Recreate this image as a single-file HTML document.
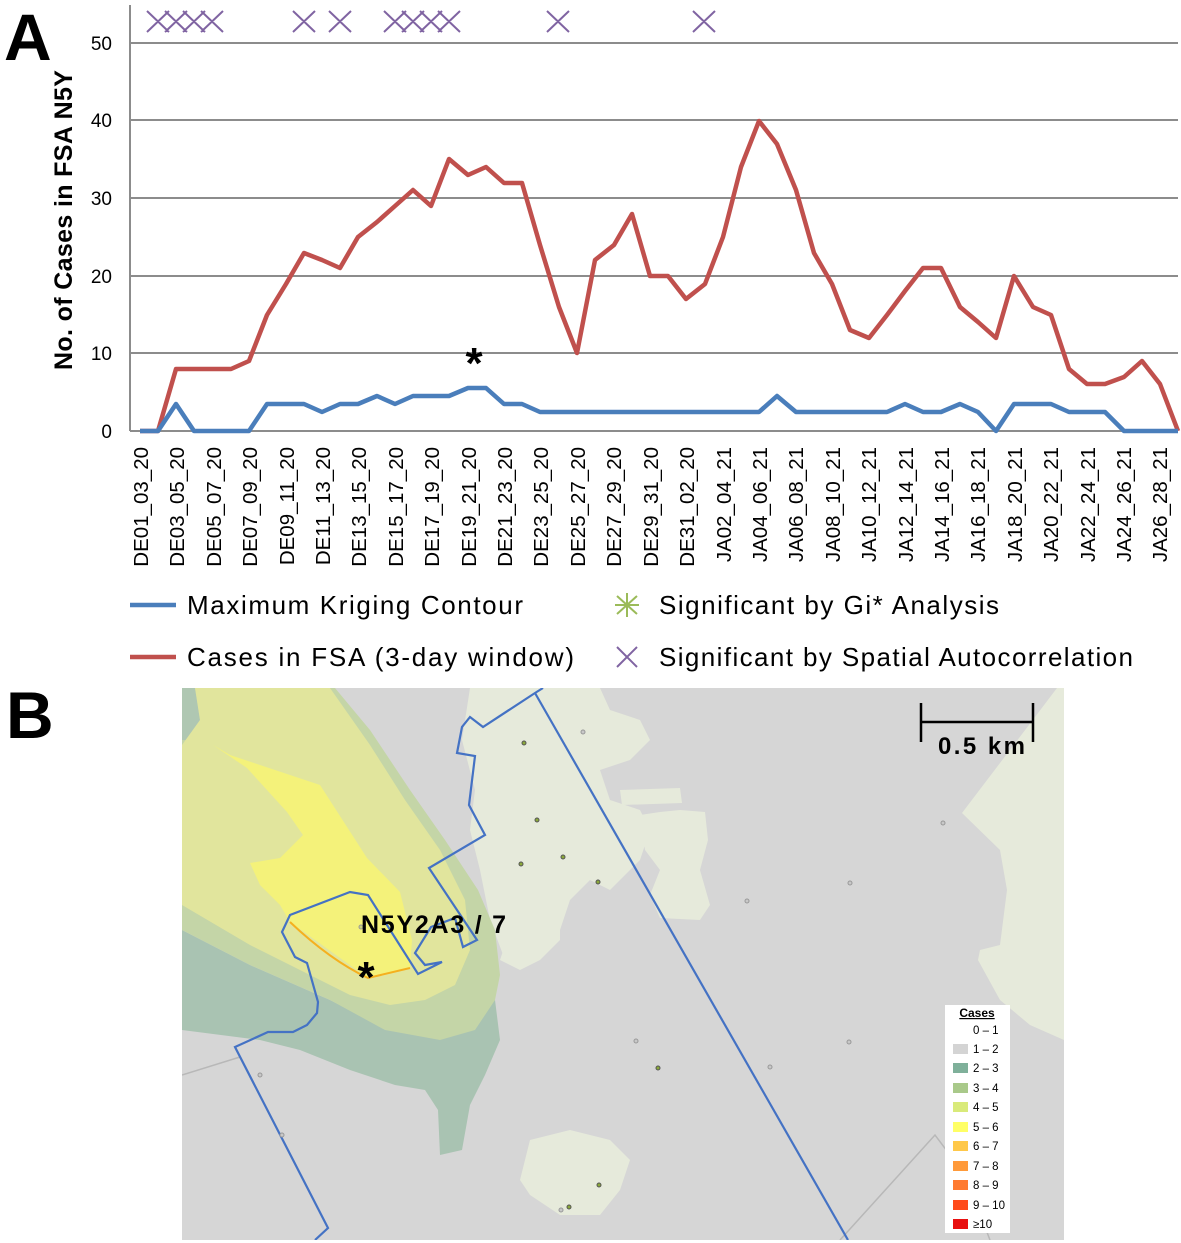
<!DOCTYPE html>
<html><head><meta charset="utf-8"><style>html,body{margin:0;padding:0;background:#fff}svg{display:block}</style></head>
<body>
<svg width="1181" height="1243" viewBox="0 0 1181 1243" xmlns="http://www.w3.org/2000/svg" font-family="Liberation Sans, sans-serif">
<rect width="1181" height="1243" fill="#fff"/>
<text x="4" y="60" font-size="66" font-weight="bold">A</text>
<text x="6" y="738" font-size="66" font-weight="bold">B</text>
<g stroke="#8c8c8c" stroke-width="2">
<line x1="130" y1="43" x2="1178" y2="43"/><line x1="130" y1="120" x2="1178" y2="120"/>
<line x1="130" y1="198" x2="1178" y2="198"/><line x1="130" y1="276" x2="1178" y2="276"/>
<line x1="130" y1="353" x2="1178" y2="353"/><line x1="130" y1="431" x2="1178" y2="431"/>
<line x1="130" y1="5" x2="130" y2="431"/>
</g>
<g font-size="19" text-anchor="end" fill="#000">
<text x="112" y="50">50</text><text x="112" y="127">40</text><text x="112" y="205">30</text>
<text x="112" y="283">20</text><text x="112" y="360">10</text><text x="112" y="438">0</text>
</g>
<text transform="translate(72,220) rotate(-90)" text-anchor="middle" font-size="25" font-weight="bold" textLength="300">No. of Cases in FSA N5Y</text>
<polyline fill="none" stroke="#c0504d" stroke-width="4.5" stroke-linejoin="round" points="140,431 158,431 176,369 194,369 213,369 231,369 249,361 267,315 286,284 304,253 322,260 340,268 358,237 377,222 395,206 413,190 431,206 449,159 468,175 486,167 504,183 522,183 540,245 559,307 577,353 595,260 614,245 632,214 650,276 668,276 686,299 705,284 723,237 741,167 759,121 777,144 796,190 814,253 832,284 850,330 869,338 887,315 905,291 923,268 941,268 960,307 978,322 996,338 1014,276 1033,307 1051,315 1069,369 1087,384 1105,384 1124,377 1142,361 1160,384 1178,431"/>
<polyline fill="none" stroke="#4a7ebb" stroke-width="4.5" stroke-linejoin="round" points="140,431 158,431 176,404 194,431 213,431 231,431 249,431 267,404 286,404 304,404 322,412 340,404 358,404 377,396 395,404 413,396 431,396 449,396 468,388 486,388 504,404 522,404 540,412 559,412 577,412 595,412 614,412 632,412 650,412 668,412 686,412 705,412 723,412 741,412 759,412 777,396 796,412 814,412 832,412 850,412 869,412 887,412 905,404 923,412 941,412 960,404 978,412 996,431 1014,404 1033,404 1051,404 1069,412 1087,412 1105,412 1124,431 1142,431 1160,431 1178,431"/>
<text x="474" y="378" font-size="44" font-weight="bold" text-anchor="middle">*</text>
<g stroke="#8064a2" stroke-width="2">
<path d="M147,11l22,21M169,11l-22,21 M165,11l22,21M187,11l-22,21 M183,11l22,21M205,11l-22,21 M201,11l22,21M223,11l-22,21 M293,11l22,21M315,11l-22,21 M329,11l22,21M351,11l-22,21 M384,11l22,21M406,11l-22,21 M402,11l22,21M424,11l-22,21 M420,11l22,21M442,11l-22,21 M438,11l22,21M460,11l-22,21 M547,11l22,21M569,11l-22,21 M693,11l22,21M715,11l-22,21"/>
</g>
<g font-size="20.5" fill="#000" text-anchor="end">
<text transform="translate(148,447) rotate(-90)">DE01_03_20</text>
<text transform="translate(184,447) rotate(-90)">DE03_05_20</text>
<text transform="translate(221,447) rotate(-90)">DE05_07_20</text>
<text transform="translate(257,447) rotate(-90)">DE07_09_20</text>
<text transform="translate(294,447) rotate(-90)">DE09_11_20</text>
<text transform="translate(330,447) rotate(-90)">DE11_13_20</text>
<text transform="translate(366,447) rotate(-90)">DE13_15_20</text>
<text transform="translate(403,447) rotate(-90)">DE15_17_20</text>
<text transform="translate(439,447) rotate(-90)">DE17_19_20</text>
<text transform="translate(476,447) rotate(-90)">DE19_21_20</text>
<text transform="translate(512,447) rotate(-90)">DE21_23_20</text>
<text transform="translate(548,447) rotate(-90)">DE23_25_20</text>
<text transform="translate(585,447) rotate(-90)">DE25_27_20</text>
<text transform="translate(621,447) rotate(-90)">DE27_29_20</text>
<text transform="translate(658,447) rotate(-90)">DE29_31_20</text>
<text transform="translate(694,447) rotate(-90)">DE31_02_20</text>
<text transform="translate(731,447) rotate(-90)">JA02_04_21</text>
<text transform="translate(767,447) rotate(-90)">JA04_06_21</text>
<text transform="translate(803,447) rotate(-90)">JA06_08_21</text>
<text transform="translate(840,447) rotate(-90)">JA08_10_21</text>
<text transform="translate(876,447) rotate(-90)">JA10_12_21</text>
<text transform="translate(913,447) rotate(-90)">JA12_14_21</text>
<text transform="translate(949,447) rotate(-90)">JA14_16_21</text>
<text transform="translate(985,447) rotate(-90)">JA16_18_21</text>
<text transform="translate(1022,447) rotate(-90)">JA18_20_21</text>
<text transform="translate(1058,447) rotate(-90)">JA20_22_21</text>
<text transform="translate(1095,447) rotate(-90)">JA22_24_21</text>
<text transform="translate(1131,447) rotate(-90)">JA24_26_21</text>
<text transform="translate(1167,447) rotate(-90)">JA26_28_21</text>
</g>
<line x1="130" y1="605" x2="176" y2="605" stroke="#4a7ebb" stroke-width="4.5"/>
<line x1="130" y1="657" x2="176" y2="657" stroke="#c0504d" stroke-width="4.5"/>
<g font-size="26" fill="#000">
<text x="187" y="614" textLength="336">Maximum Kriging Contour</text>
<text x="187" y="666" textLength="387">Cases in FSA (3-day window)</text>
<text x="659" y="614" textLength="340">Significant by Gi* Analysis</text>
<text x="659" y="666" textLength="474">Significant by Spatial Autocorrelation</text>
</g>
<g stroke="#9bbb59" stroke-width="2"><path d="M617,596l20,18M637,596l-20,18M627,593v24M615,605h24"/></g>
<g stroke="#8064a2" stroke-width="2"><path d="M617,647l20,20M637,647l-20,20"/></g>
<svg x="182" y="688" width="882" height="552" viewBox="182 688 882 552" overflow="hidden">
<rect x="182" y="688" width="882" height="552" fill="#d6d6d6"/>
<g fill="#e6eadb">
<polygon points="470,688 600,688 610,710 640,720 650,740 630,760 600,770 610,800 640,810 650,830 640,860 610,890 590,880 570,900 560,930 530,945 520,960 505,960 490,920 480,870 470,830 475,790 462,740"/>
<polygon points="620,790 680,788 682,803 622,805"/>
<polygon points="640,815 660,812 680,810 705,812 708,840 700,870 710,905 700,920 660,918 650,895 660,870 645,850"/>
<polygon points="1057,688 1064,688 1064,1040 1030,1025 1000,1000 978,960 980,950 1000,945 1007,890 1000,850 962,813"/>
<polygon points="530,1140 570,1130 610,1140 630,1160 620,1190 600,1215 560,1215 530,1195 520,1180"/>
<polygon points="520,900 560,900 560,940 540,960 520,970 500,960"/>
</g>
<polygon fill="#a9c3b2" points="182,930 250,965 330,1000 380,1025 460,1030 495,1000 500,1040 485,1075 470,1105 462,1150 440,1155 438,1110 425,1090 395,1085 350,1070 300,1050 260,1040 182,1030"/>
<polygon fill="#c4d5a7" points="182,688 335,688 370,730 410,790 445,840 478,890 495,930 500,975 495,1000 475,1030 440,1040 385,1030 330,1000 250,965 182,930"/>
<polygon fill="#afc7b2" points="182,688 195,688 200,720 190,740 182,740"/>
<polygon fill="#e1e59d" points="195,688 330,688 370,745 405,800 440,850 465,900 470,950 455,985 425,1000 390,1005 350,995 300,970 250,945 182,905 182,745 200,720"/>
<polygon fill="#f4f27a" points="213,745 230,755 320,785 367,858 400,892 412,940 410,968 368,978 290,922 280,905 260,885 250,863 280,858 303,835 287,812 247,768"/>
<path d="M290,922 Q330,960 368,978 L410,968" fill="none" stroke="#f5b01e" stroke-width="2"/>
<g stroke="#b8b8b8" stroke-width="1.5" fill="none">
<path d="M182,1075 L240,1057"/><path d="M840,1240 L935,1135 L965,1175 L990,1240"/>
</g>
<polyline fill="none" stroke="#4472c4" stroke-width="2.2" points="543,688 535,693 483,727 470,717 462,727 457,753 475,756 469,805 485,835 429,868 477,940 463,947 455,918 431,927 415,953 425,965 442,962 418,974 368,895 350,892 290,915 282,932 295,957 307,963 318,1002 317,1013 307,1025 293,1032 268,1032 235,1047 328,1228 315,1240"/>
<line x1="535" y1="693" x2="848" y2="1240" stroke="#4472c4" stroke-width="2.2"/>
<g fill="#8aa83a" stroke="#555" stroke-width="1">
<circle cx="524" cy="743" r="2"/><circle cx="537" cy="820" r="2"/><circle cx="563" cy="857" r="2"/><circle cx="521" cy="864" r="2"/><circle cx="598" cy="882" r="2"/><circle cx="569" cy="1207" r="2"/><circle cx="599" cy="1185" r="2"/><circle cx="658" cy="1068" r="2"/>
</g>
<g fill="#c8c8c8" stroke="#999" stroke-width="1">
<circle cx="583" cy="732" r="2"/><circle cx="943" cy="823" r="2"/><circle cx="850" cy="883" r="2"/><circle cx="747" cy="901" r="2"/><circle cx="636" cy="1041" r="2"/><circle cx="849" cy="1042" r="2"/><circle cx="770" cy="1067" r="2"/><circle cx="260" cy="1075" r="2"/><circle cx="282" cy="1135" r="2"/><circle cx="561" cy="1210" r="2"/><circle cx="361" cy="927" r="2" fill="#c9d27a"/>
</g>
</svg>
<text x="361" y="933" font-size="25" font-weight="bold" textLength="145">N5Y2A3 / 7</text>
<text x="366" y="992" font-size="44" font-weight="bold" text-anchor="middle">*</text>
<g stroke="#000" stroke-width="2.5"><line x1="921" y1="722" x2="1033" y2="722"/><line x1="921" y1="703" x2="921" y2="742"/><line x1="1033" y1="703" x2="1033" y2="742"/></g>
<text x="938" y="754" font-size="24" font-weight="bold" textLength="87">0.5 km</text>
<rect x="945" y="1005" width="65" height="228" fill="#fff"/>
<text x="977" y="1017" font-size="12" font-weight="bold" text-anchor="middle" text-decoration="underline">Cases</text>
<g font-size="11.5" fill="#000">
<text x="973" y="1034">0 – 1</text>
<rect x="953" y="1044" width="15" height="10" fill="#d4d4d4"/><text x="973" y="1053">1 – 2</text>
<rect x="953" y="1063" width="15" height="10" fill="#7fb09a"/><text x="973" y="1072">2 – 3</text>
<rect x="953" y="1083" width="15" height="10" fill="#a9c98a"/><text x="973" y="1092">3 – 4</text>
<rect x="953" y="1102" width="15" height="10" fill="#d9ea7a"/><text x="973" y="1111">4 – 5</text>
<rect x="953" y="1122" width="15" height="10" fill="#ffff66"/><text x="973" y="1131">5 – 6</text>
<rect x="953" y="1141" width="15" height="10" fill="#ffc84a"/><text x="973" y="1150">6 – 7</text>
<rect x="953" y="1161" width="15" height="10" fill="#ff9a3a"/><text x="973" y="1170">7 – 8</text>
<rect x="953" y="1180" width="15" height="10" fill="#ff7a30"/><text x="973" y="1189">8 – 9</text>
<rect x="953" y="1200" width="15" height="10" fill="#ff4a1a"/><text x="973" y="1209">9 – 10</text>
<rect x="953" y="1219" width="15" height="10" fill="#e81010"/><text x="973" y="1228">≥10</text>
</g>
</svg>
</body></html>
